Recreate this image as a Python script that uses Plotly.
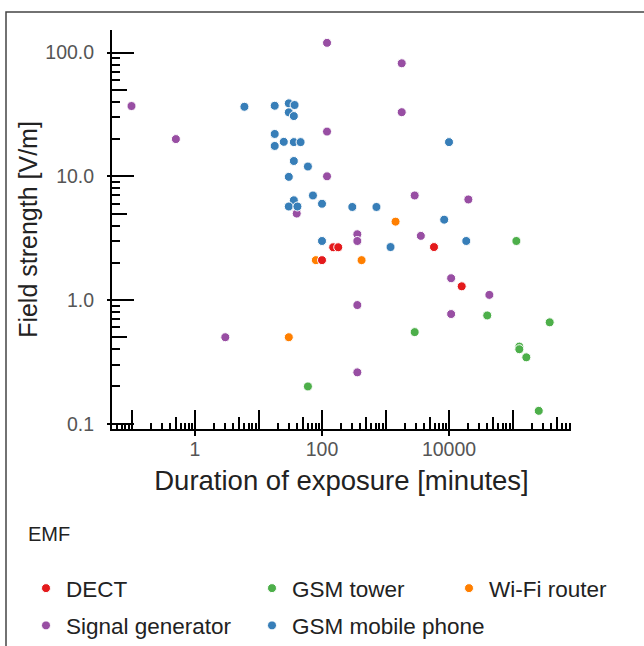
import plotly.graph_objects as go
import numpy as np

# ---------------- data ----------------
dect_x = [100, 150, 180, 5800, 15850]
dect_y = [2.1, 2.67, 2.67, 2.68, 1.29]

wifi_x = [1440, 80, 420, 30]
wifi_y = [4.3, 2.1, 2.1, 0.5]

tower_x = [115000, 40000, 385000, 2880, 128000, 128000, 165000, 259000, 60]
tower_y = [3.0, 0.75, 0.66, 0.55, 0.42, 0.40, 0.344, 0.127, 0.2]

siggen_x = [120, 0.1, 0.5, 120, 120, 40, 1800, 1800, 2880, 20160,
            360, 360, 3600, 10800, 43200, 360, 10800, 360, 3]
siggen_y = [120, 37, 20, 23, 10, 5.0, 82, 33, 7.0, 6.5,
            3.4, 3.0, 3.3, 1.5, 1.1, 0.91, 0.77, 0.26, 0.5]

phone_x = [6, 18, 30, 37, 30, 36, 18, 18, 25, 36, 46, 36, 60, 30, 72, 100,
           36, 30, 41, 10000, 300, 720, 8400, 100, 1200, 18700]
phone_y = [36.5, 37.2, 38.9, 37.7, 32.9, 30.7, 22, 17.6, 19.0, 18.9, 18.9,
           13.3, 12, 9.9, 7.0, 6.0, 6.4, 5.7, 5.7, 18.9, 5.65, 5.65, 4.46,
           3.0, 2.68, 3.0]

x_decades = [0.1, 1, 10, 100, 1000, 10000, 100000]
x_ticktext = ["", "1", "", "100", "", "10000", ""]
y_decades = [0.1, 1, 10, 100]
y_ticktext = ["0.1", "1.0", "10.0", "100.0"]

# ---------------- ticks ----------------
XR = [-1.307, 5.921]
YR = [-1.043, 2.183]


def in_range(vals, r):
    return [v for v in vals if r[0] - 1e-9 <= np.log10(v) <= r[1] + 1e-9]


decs_all = [10.0 ** k for k in range(-2, 6)]
x_minor = in_range([m * d for d in decs_all for m in (2, 3, 4, 6, 7, 8, 9)], XR)
x_fives = in_range([5 * d for d in decs_all], XR)
y_minor = in_range([m * d for d in decs_all for m in (2, 3, 4, 6, 7, 8, 9)], YR)
y_fives = in_range([5 * d for d in decs_all], YR)

FONT = "Liberation Sans, Arial, Helvetica, sans-serif"
W, H = 644, 646
ML, MT, PW, PH = 112, 30, 459, 399


def px_x(px):
    return (px - ML) / PW


def px_y(py):
    return (MT + PH - py) / PH


fig = go.Figure()

series = [
    ("Wi-Fi router", wifi_x, wifi_y, "#ff7f00", "legend3", 1),
    ("GSM tower", tower_x, tower_y, "#4daf4a", "legend2", 1),
    ("Signal generator", siggen_x, siggen_y, "#984ea3", "legend", 2),
    ("GSM mobile phone", phone_x, phone_y, "#377eb8", "legend2", 2),
    ("DECT", dect_x, dect_y, "#e41a1c", "legend", 1),
]
for name, xs, ys, col, leg, rank in series:
    fig.add_trace(go.Scatter(
        x=xs, y=ys, mode="markers", name=name,
        marker=dict(color=col, size=9, line=dict(color="white", width=1)),
        legend=leg, legendrank=rank, legendgroup=name,
    ))

# invisible trace that carries the overlay axes (extra tick sets)
fig.add_trace(go.Scatter(x=[None], y=[None], xaxis="x2", yaxis="y2",
                         showlegend=False, hoverinfo="skip", mode="markers"))

tickfont = dict(family=FONT, size=19.5, color="#555555")
legfont = dict(family=FONT, size=22.5, color="#222222")

fig.update_layout(
    width=W, height=H,
    margin=dict(l=ML, r=W - ML - PW, t=MT, b=H - MT - PH, autoexpand=False),
    paper_bgcolor="white", plot_bgcolor="white",
    font=dict(family=FONT, color="#222222"),
    showlegend=True,
    xaxis=dict(
        type="log", range=XR, showgrid=False, zeroline=False,
        showline=True, linecolor="black", linewidth=2,
        tickmode="array", tickvals=x_decades, ticktext=x_ticktext,
        ticks="inside", ticklen=19, tickwidth=2, tickcolor="black",
        tickfont=tickfont, ticklabelstandoff=2,
        minor=dict(tickmode="array", tickvals=x_minor, ticks="inside",
                   ticklen=6, tickwidth=1.5, tickcolor="black"),
        title=dict(text="Duration of exposure [minutes]",
                   font=dict(family=FONT, size=27.5, color="#222222"),
                   standoff=11),
        anchor="y",
    ),
    yaxis=dict(
        type="log", range=YR, showgrid=False, zeroline=False,
        showline=True, linecolor="black", linewidth=2,
        tickmode="array", tickvals=y_decades, ticktext=y_ticktext,
        ticks="inside", ticklen=22, tickwidth=2, tickcolor="black",
        tickfont=tickfont, ticklabelstandoff=12,
        minor=dict(tickmode="array", tickvals=y_minor, ticks="inside",
                   ticklen=8, tickwidth=1.5, tickcolor="black"),
        title=dict(text="Field strength [V/m]",
                   font=dict(family=FONT, size=25, color="#222222"),
                   standoff=1),
        anchor="x",
    ),
    xaxis2=dict(
        type="log", range=XR, overlaying="x", anchor="y2", side="bottom",
        showgrid=False, zeroline=False, showline=False, showticklabels=False,
        tickmode="array", tickvals=x_fives,
        ticks="inside", ticklen=12, tickwidth=1.5, tickcolor="black",
        minor=dict(tickmode="array", tickvals=[1, 100, 10000], ticks="outside",
                   ticklen=6, tickwidth=2, tickcolor="black"),
    ),
    yaxis2=dict(
        type="log", range=YR, overlaying="y", anchor="x2", side="left",
        showgrid=False, zeroline=False, showline=False, showticklabels=False,
        tickmode="array", tickvals=y_fives,
        ticks="inside", ticklen=15, tickwidth=1.5, tickcolor="black",
        minor=dict(tickmode="array", tickvals=y_decades, ticks="outside",
                   ticklen=4, tickwidth=2, tickcolor="black"),
    ),
    legend=dict(
        title=dict(text="EMF<br> ", font=dict(family=FONT, size=20, color="#222222")),
        orientation="v",
        x=px_x(26), xanchor="left", y=px_y(515), yanchor="top",
        font=legfont, tracegroupgap=5, bgcolor="rgba(0,0,0,0)",
    ),
    legend2=dict(
        orientation="v",
        x=px_x(252), xanchor="left", y=px_y(567), yanchor="top",
        font=legfont, tracegroupgap=5, bgcolor="rgba(0,0,0,0)",
    ),
    legend3=dict(
        orientation="v",
        x=px_x(449), xanchor="left", y=px_y(567), yanchor="top",
        font=legfont, tracegroupgap=5, bgcolor="rgba(0,0,0,0)",
    ),
    shapes=[dict(type="rect", xref="paper", yref="paper",
                 x0=px_x(6), x1=px_x(680), y0=px_y(700), y1=px_y(12),
                 line=dict(color="#444444", width=1.5), layer="below")],
)

fig.write_html(
    "out.html",
    config={"displayModeBar": False},
    post_script="document.body.style.margin='0px';document.body.style.overflow='hidden';",
)
